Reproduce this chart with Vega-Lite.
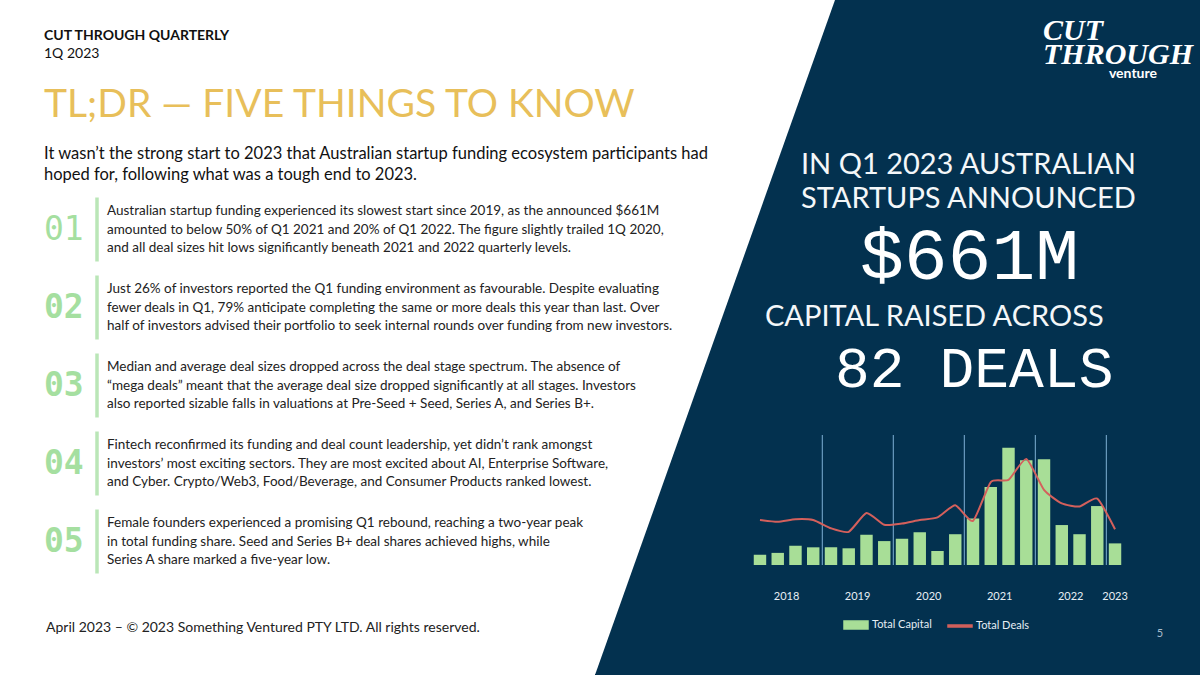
{
  "$schema": "https://vega.github.io/schema/vega-lite/v6.json",
  "autosize": {"type": "fit", "contains": "padding"},
  "width": 1200,
  "height": 675,
  "padding": 0,
  "background": "#ffffff",
  "config": {"view": {"stroke": null}},
  "datasets": {
    "funding": [
      {"period": "2018 Q1", "capital": 0.31, "deals": 103},
      {"period": "2018 Q2", "capital": 0.37, "deals": 99},
      {"period": "2018 Q3", "capital": 0.59, "deals": 105},
      {"period": "2018 Q4", "capital": 0.54, "deals": 103},
      {"period": "2019 Q1", "capital": 0.54, "deals": 84},
      {"period": "2019 Q2", "capital": 0.51, "deals": 76},
      {"period": "2019 Q3", "capital": 0.92, "deals": 119},
      {"period": "2019 Q4", "capital": 0.73, "deals": 92},
      {"period": "2020 Q1", "capital": 0.8, "deals": 95},
      {"period": "2020 Q2", "capital": 1.0, "deals": 103},
      {"period": "2020 Q3", "capital": 0.43, "deals": 109},
      {"period": "2020 Q4", "capital": 0.94, "deals": 137},
      {"period": "2021 Q1", "capital": 1.42, "deals": 101},
      {"period": "2021 Q2", "capital": 2.38, "deals": 190},
      {"period": "2021 Q3", "capital": 3.58, "deals": 195},
      {"period": "2021 Q4", "capital": 3.2, "deals": 243},
      {"period": "2022 Q1", "capital": 3.23, "deals": 172},
      {"period": "2022 Q2", "capital": 1.22, "deals": 141},
      {"period": "2022 Q3", "capital": 0.94, "deals": 134},
      {"period": "2022 Q4", "capital": 1.8, "deals": 152},
      {"period": "2023 Q1", "capital": 0.66, "deals": 82}
    ],
    "points": [
      {"item": "01", "line": 1, "text": "Australian startup funding experienced its slowest start since 2019, as the announced $661M"},
      {"item": "01", "line": 2, "text": "amounted to below 50% of Q1 2021 and 20% of Q1 2022. The figure slightly trailed 1Q 2020,"},
      {"item": "01", "line": 3, "text": "and all deal sizes hit lows significantly beneath 2021 and 2022 quarterly levels."},
      {"item": "02", "line": 1, "text": "Just 26% of investors reported the Q1 funding environment as favourable. Despite evaluating"},
      {"item": "02", "line": 2, "text": "fewer deals in Q1, 79% anticipate completing the same or more deals this year than last. Over"},
      {"item": "02", "line": 3, "text": "half of investors advised their portfolio to seek internal rounds over funding from new investors."},
      {"item": "03", "line": 1, "text": "Median and average deal sizes dropped across the deal stage spectrum. The absence of"},
      {"item": "03", "line": 2, "text": "“mega deals” meant that the average deal size dropped significantly at all stages. Investors"},
      {"item": "03", "line": 3, "text": "also reported sizable falls in valuations at Pre-Seed + Seed, Series A, and Series B+."},
      {"item": "04", "line": 1, "text": "Fintech reconfirmed its funding and deal count leadership, yet didn’t rank amongst"},
      {"item": "04", "line": 2, "text": "investors’ most exciting sectors. They are most excited about AI, Enterprise Software,"},
      {"item": "04", "line": 3, "text": "and Cyber. Crypto/Web3, Food/Beverage, and Consumer Products ranked lowest."},
      {"item": "05", "line": 1, "text": "Female founders experienced a promising Q1 rebound, reaching a two-year peak"},
      {"item": "05", "line": 2, "text": "in total funding share. Seed and Series B+ deal shares achieved highs, while"},
      {"item": "05", "line": 3, "text": "Series A share marked a five-year low."}
    ]
  },
  "layer": [
    {
      "data": {"values": [
        {"corner": 1, "across": "top edge", "down": "top"},
        {"corner": 2, "across": "far edge", "down": "top"},
        {"corner": 3, "across": "far edge", "down": "bottom"},
        {"corner": 4, "across": "bottom edge", "down": "bottom"}
      ]},
      "mark": {"type": "line", "fill": "#03314f", "stroke": "#03314f", "clip": true},
      "encoding": {
        "x": {"field": "across", "type": "nominal", "axis": null, "scale": {"type": "point", "domain": ["bottom edge", "top edge", "beyond", "far edge"], "range": [595, 1315], "padding": 0}},
        "y": {"field": "down", "type": "nominal", "axis": null, "scale": {"type": "point", "domain": ["top", "bottom"], "range": [0, 675], "padding": 0}},
        "order": {"field": "corner"}
      }
    },
    {
      "data": {"values": [{"text": "CUT THROUGH QUARTERLY"}]},
      "mark": {"type": "text", "align": "left", "baseline": "middle", "font": "Lato", "fontSize": 14, "fontWeight": 700, "color": "#111111"},
      "encoding": {
        "x": {"datum": "left", "type": "nominal", "axis": null, "scale": {"type": "point", "domain": ["left"], "range": [44, 44], "padding": 0}},
        "y": {"datum": "kicker", "type": "nominal", "axis": null, "scale": {"type": "point", "domain": ["kicker"], "range": [36, 36], "padding": 0}},
        "text": {"field": "text"}
      }
    },
    {
      "data": {"values": [{"text": "1Q 2023"}]},
      "mark": {"type": "text", "align": "left", "baseline": "middle", "font": "Lato", "fontSize": 14, "color": "#111111"},
      "encoding": {
        "x": {"datum": "left", "type": "nominal", "axis": null, "scale": {"type": "point", "domain": ["left"], "range": [44, 44], "padding": 0}},
        "y": {"datum": "issue", "type": "nominal", "axis": null, "scale": {"type": "point", "domain": ["issue"], "range": [54, 54], "padding": 0}},
        "text": {"field": "text"}
      }
    },
    {
      "data": {"values": [{"text": "TL;DR — FIVE THINGS TO KNOW"}]},
      "mark": {"type": "text", "align": "left", "baseline": "middle", "font": "Lato", "fontSize": 39, "color": "#e8bf5a"},
      "encoding": {
        "x": {"datum": "left", "type": "nominal", "axis": null, "scale": {"type": "point", "domain": ["left"], "range": [44, 44], "padding": 0}},
        "y": {"datum": "title", "type": "nominal", "axis": null, "scale": {"type": "point", "domain": ["title"], "range": [105, 105], "padding": 0}},
        "text": {"field": "text"}
      }
    },
    {
      "data": {"values": [
        {"line": 1, "text": "It wasn’t the strong start to 2023 that Australian startup funding ecosystem participants had"},
        {"line": 2, "text": "hoped for, following what was a tough end to 2023."}
      ]},
      "mark": {"type": "text", "align": "left", "baseline": "middle", "font": "Lato", "fontSize": 16.5, "color": "#111111"},
      "encoding": {
        "x": {"datum": "left", "type": "nominal", "axis": null, "scale": {"type": "point", "domain": ["left"], "range": [44, 44], "padding": 0}},
        "y": {"field": "line", "type": "ordinal", "axis": null, "scale": {"type": "point", "domain": [1, 2], "range": [154, 175], "padding": 0}},
        "text": {"field": "text"}
      }
    },
    {
      "data": {"values": [{"text": "April 2023 – © 2023 Something Ventured PTY LTD. All rights reserved."}]},
      "mark": {"type": "text", "align": "left", "baseline": "middle", "font": "Lato", "fontSize": 14, "color": "#222222"},
      "encoding": {
        "x": {"datum": "left", "type": "nominal", "axis": null, "scale": {"type": "point", "domain": ["left"], "range": [46, 46], "padding": 0}},
        "y": {"datum": "footer", "type": "nominal", "axis": null, "scale": {"type": "point", "domain": ["footer"], "range": [628, 628], "padding": 0}},
        "text": {"field": "text"}
      }
    },
    {
      "encoding": {
        "y": {"field": "item", "type": "nominal", "axis": null, "scale": {"type": "point", "domain": ["01", "02", "03", "04", "05"], "range": [229.5, 541.5], "padding": 0}}
      },
      "resolve": {"scale": {"x": "independent"}, "axis": {"x": "independent"}},
      "layer": [
        {
          "data": {"values": [{"item": "01"}, {"item": "02"}, {"item": "03"}, {"item": "04"}, {"item": "05"}]},
          "mark": {"type": "tick", "orient": "vertical", "size": 64, "thickness": 3.5, "color": "#9ddc98"},
          "encoding": {
            "x": {"datum": "divider", "type": "nominal", "axis": null, "scale": {"type": "point", "domain": ["divider"], "range": [97, 97], "padding": 0}}
          }
        },
        {
          "data": {"values": [{"item": "01"}]},
          "mark": {"type": "text", "align": "left", "baseline": "middle", "font": "DejaVu Sans Mono", "fontSize": 33, "color": "#a5dfa0"},
          "encoding": {
            "x": {"datum": "number", "type": "nominal", "axis": null, "scale": {"type": "point", "domain": ["number"], "range": [44, 44], "padding": 0}},
            "text": {"field": "item"}
          }
        },
        {
          "data": {"values": [{"item": "02"}, {"item": "03"}, {"item": "04"}, {"item": "05"}]},
          "mark": {"type": "text", "align": "left", "baseline": "middle", "font": "DejaVu Sans Mono", "fontWeight": 700, "fontSize": 33, "color": "#a5dfa0"},
          "encoding": {
            "x": {"datum": "number", "type": "nominal", "axis": null, "scale": {"type": "point", "domain": ["number"], "range": [44, 44], "padding": 0}},
            "text": {"field": "item"}
          }
        },
        {
          "data": {"name": "points"},
          "mark": {"type": "text", "align": "left", "baseline": "middle", "font": "Lato", "fontSize": 13.5, "color": "#222222"},
          "encoding": {
            "x": {"datum": "body", "type": "nominal", "axis": null, "scale": {"type": "point", "domain": ["body"], "range": [107, 107], "padding": 0}},
            "yOffset": {"field": "line", "type": "ordinal", "scale": {"type": "point", "domain": [1, 2, 3], "range": [-18.4, 18.4], "padding": 0}},
            "text": {"field": "text"}
          }
        }
      ]
    },
    {
      "data": {"values": [{"line": 1, "text": "IN Q1 2023 AUSTRALIAN"}, {"line": 2, "text": "STARTUPS ANNOUNCED"}]},
      "mark": {"type": "text", "align": "left", "baseline": "middle", "font": "Lato", "fontSize": 29, "color": "#f4f7f9"},
      "encoding": {
        "x": {"datum": "lead", "type": "nominal", "axis": null, "scale": {"type": "point", "domain": ["lead"], "range": [801, 801], "padding": 0}},
        "y": {"field": "line", "type": "ordinal", "axis": null, "scale": {"type": "point", "domain": [1, 2], "range": [165, 199], "padding": 0}},
        "text": {"field": "text"}
      }
    },
    {
      "data": {"values": [{"text": "$661M"}]},
      "mark": {"type": "text", "align": "left", "baseline": "middle", "font": "Liberation Mono", "fontSize": 73, "color": "#ffffff"},
      "encoding": {
        "x": {"datum": "amount", "type": "nominal", "axis": null, "scale": {"type": "point", "domain": ["amount"], "range": [860, 860], "padding": 0}},
        "y": {"datum": "amount", "type": "nominal", "axis": null, "scale": {"type": "point", "domain": ["amount"], "range": [257, 257], "padding": 0}},
        "text": {"field": "text"}
      }
    },
    {
      "data": {"values": [{"text": "CAPITAL RAISED ACROSS"}]},
      "mark": {"type": "text", "align": "left", "baseline": "middle", "font": "Lato", "fontSize": 29, "color": "#f4f7f9"},
      "encoding": {
        "x": {"datum": "raised", "type": "nominal", "axis": null, "scale": {"type": "point", "domain": ["raised"], "range": [765, 765], "padding": 0}},
        "y": {"datum": "raised", "type": "nominal", "axis": null, "scale": {"type": "point", "domain": ["raised"], "range": [317, 317], "padding": 0}},
        "text": {"field": "text"}
      }
    },
    {
      "data": {"values": [{"text": "82 DEALS"}]},
      "mark": {"type": "text", "align": "left", "baseline": "middle", "font": "Liberation Mono", "fontSize": 58, "color": "#ffffff"},
      "encoding": {
        "x": {"datum": "count", "type": "nominal", "axis": null, "scale": {"type": "point", "domain": ["count"], "range": [835, 835], "padding": 0}},
        "y": {"datum": "count", "type": "nominal", "axis": null, "scale": {"type": "point", "domain": ["count"], "range": [370, 370], "padding": 0}},
        "text": {"field": "text"}
      }
    },
    {
      "data": {"values": [{"line": 1, "text": "CUT"}, {"line": 2, "text": "THROUGH"}]},
      "mark": {"type": "text", "align": "left", "baseline": "middle", "font": "Liberation Sans Narrow", "fontStyle": "italic", "fontWeight": 700, "fontSize": 30, "color": "#ffffff"},
      "encoding": {
        "x": {"datum": "logo", "type": "nominal", "axis": null, "scale": {"type": "point", "domain": ["logo"], "range": [1043, 1043], "padding": 0}},
        "y": {"field": "line", "type": "ordinal", "axis": null, "scale": {"type": "point", "domain": [1, 2], "range": [31, 55], "padding": 0}},
        "text": {"field": "text"}
      }
    },
    {
      "data": {"values": [{"text": "venture"}]},
      "mark": {"type": "text", "align": "right", "baseline": "middle", "font": "Lato", "fontWeight": 700, "fontSize": 14, "color": "#ffffff"},
      "encoding": {
        "x": {"datum": "logo", "type": "nominal", "axis": null, "scale": {"type": "point", "domain": ["logo"], "range": [1157, 1157], "padding": 0}},
        "y": {"datum": "logo", "type": "nominal", "axis": null, "scale": {"type": "point", "domain": ["logo"], "range": [74, 74], "padding": 0}},
        "text": {"field": "text"}
      }
    },
    {
      "data": {"values": [{"text": "5"}]},
      "mark": {"type": "text", "align": "center", "baseline": "middle", "font": "Lato", "fontSize": 11, "color": "#a9bccb"},
      "encoding": {
        "x": {"datum": "page", "type": "nominal", "axis": null, "scale": {"type": "point", "domain": ["page"], "range": [1160, 1160], "padding": 0}},
        "y": {"datum": "page", "type": "nominal", "axis": null, "scale": {"type": "point", "domain": ["page"], "range": [634, 634], "padding": 0}},
        "text": {"field": "text"}
      }
    },
    {
      "resolve": {"scale": {"y": "independent", "x": "shared"}, "axis": {"y": "independent"}},
      "layer": [
        {
          "data": {"name": "funding"},
          "mark": {"type": "bar"},
          "encoding": {
            "x": {
              "field": "period",
              "type": "ordinal",
              "title": null,
              "scale": {"type": "band", "range": [751.1, 1123.9], "paddingInner": 0.3, "paddingOuter": 0.15},
              "axis": {
                "orient": "bottom",
                "offset": -110,
                "values": ["2018 Q1", "2018 Q3", "2019 Q1", "2019 Q3", "2020 Q1", "2020 Q3", "2021 Q1", "2021 Q3", "2022 Q1", "2022 Q3", "2023 Q1"],
                "labelExpr": "slice(datum.label, 5)",
                "labelAngle": 0,
                "labelOverlap": false,
                "labelPadding": 10,
                "labelFont": "Lato",
                "labelFontSize": 11,
                "labelColor": "#e6eef4",
                "ticks": false,
                "grid": false,
                "domainColor": "#8fb8d6"
              }
            },
            "y": {
              "field": "capital",
              "type": "quantitative",
              "title": null,
              "scale": {"domain": [0, 4], "range": [565, 434]},
              "axis": {
                "orient": "left",
                "offset": -736,
                "values": [0, 1, 2, 3, 4],
                "labelExpr": "datum.value === 0 ? '$0.0K' : '$' + format(datum.value, '.1f') + 'B'",
                "labelPadding": 0,
                "labelFont": "DejaVu Sans Mono",
                "labelFontSize": 13,
                "labelColor": "#dfeaf2",
                "domain": false,
                "ticks": false,
                "grid": false
              }
            },
            "color": {
              "datum": "Total Capital",
              "type": "nominal",
              "scale": {"domain": ["Total Capital", "Total Deals"], "range": ["#a8de97", "#d4605c"]},
              "legend": {
                "title": null,
                "orient": "none",
                "legendX": 843,
                "legendY": 612,
                "direction": "horizontal",
                "columns": 2,
                "columnPadding": 13,
                "symbolSize": 576,
                "labelOffset": 3,
                "labelFont": "Lato",
                "labelFontSize": 11,
                "labelColor": "#e6eef4",
                "encode": {
                  "symbols": {"update": {
                    "shape": {"signal": "datum.value === 'Total Deals' ? 'M-1,-0.08H1V0.08H-1Z' : 'M-1,-0.33H1V0.33H-1Z'"},
                    "fill": {"signal": "datum.value === 'Total Deals' ? '#d4605c' : '#a8de97'"},
                    "stroke": {"value": "transparent"}
                  }}
                }
              }
            }
          }
        },
        {
          "data": {"values": [{"period": "2019 Q1"}, {"period": "2020 Q1"}, {"period": "2021 Q1"}, {"period": "2022 Q1"}, {"period": "2023 Q1"}]},
          "mark": {"type": "rule", "color": "#7fb0d5", "strokeWidth": 1},
          "encoding": {
            "x": {"field": "period", "type": "ordinal", "bandPosition": -0.2, "title": null, "scale": {"type": "band"}},
            "y": {"datum": 0, "type": "quantitative", "axis": null, "scale": {"domain": [0, 4], "range": [565, 435]}},
            "y2": {"datum": 4}
          }
        },
        {
          "data": {"name": "funding"},
          "mark": {"type": "line", "interpolate": "cardinal", "tension": 0.45, "strokeWidth": 2},
          "encoding": {
            "x": {"field": "period", "type": "ordinal", "title": null, "scale": {"type": "band"}},
            "y": {
              "field": "deals",
              "type": "quantitative",
              "title": null,
              "scale": {"domain": [0, 300], "range": [565, 434]},
              "axis": {
                "orient": "right",
                "offset": -61,
                "values": [0, 50, 100, 150, 200, 250, 300],
                "labelPadding": 0,
                "labelFont": "DejaVu Sans Mono",
                "labelFontSize": 13,
                "labelColor": "#dfeaf2",
                "domain": false,
                "ticks": false,
                "grid": false
              }
            },
            "color": {"datum": "Total Deals", "type": "nominal"}
          }
        },
        {
          "data": {"values": [{"period": "2018 Q2", "year": "2018"}, {"period": "2019 Q2", "year": "2019"}, {"period": "2020 Q2", "year": "2020"}, {"period": "2021 Q2", "year": "2021"}, {"period": "2022 Q2", "year": "2022"}]},
          "mark": {"type": "text", "font": "Lato", "fontSize": 11, "color": "#e6eef4", "baseline": "middle"},
          "encoding": {
            "x": {"field": "period", "type": "ordinal", "bandPosition": 1.215, "title": null, "scale": {"type": "band"}},
            "y": {"datum": "years", "type": "nominal", "axis": null, "scale": {"type": "point", "domain": ["years"], "range": [597, 597], "padding": 0}},
            "text": {"field": "year"}
          }
        },
        {
          "data": {"values": [{"period": "2023 Q1", "year": "2023"}]},
          "mark": {"type": "text", "font": "Lato", "fontSize": 11, "color": "#e6eef4", "baseline": "middle"},
          "encoding": {
            "x": {"field": "period", "type": "ordinal", "title": null, "scale": {"type": "band"}},
            "y": {"datum": "years", "type": "nominal", "axis": null, "scale": {"type": "point", "domain": ["years"], "range": [597, 597], "padding": 0}},
            "text": {"field": "year"}
          }
        }
      ]
    }
  ],
  "resolve": {
    "scale": {"x": "independent", "y": "independent"},
    "axis": {"x": "independent", "y": "independent"}
  }
}
